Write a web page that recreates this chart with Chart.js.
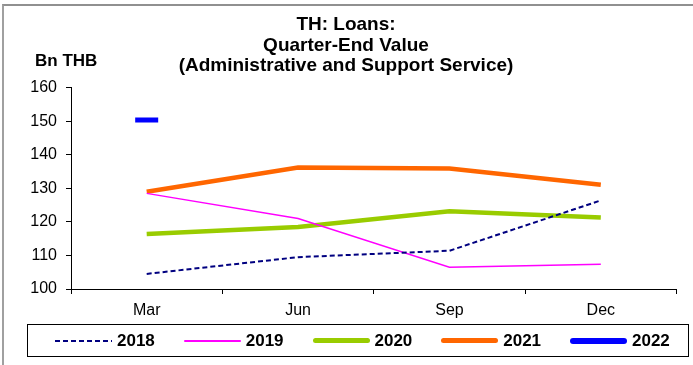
<!DOCTYPE html>
<html>
<head>
<meta charset="utf-8">
<script src="https://cdn.jsdelivr.net/npm/chart.js@4"></script>
<style>
  body { margin: 0; background: #fff; }
  #wrap { position: relative; width: 693px; height: 365px; overflow: hidden; font-family: "Liberation Sans", Arial, sans-serif; }
  #frame { position: absolute; left: 2px; top: 4px; width: 720px; height: 400px; border-left: 2px solid #a0a0a0; border-top: 2px solid #909090; }
  #unit { position: absolute; left: 35px; top: 51px; font-size: 17px; font-weight: bold; line-height: 20px; }
  #legend { position: absolute; left: 27px; top: 324px; width: 662px; height: 33px; box-sizing: border-box; border: 1px solid #000; display: flex; align-items: center; padding-left: 27px; }
  .item { display: flex; align-items: center; width: 128.75px; flex: none; }
  .sample { width: 57px; margin-right: 5px; flex: none; }
  .item span { font-size: 17px; font-weight: bold; }
</style>
</head>
<body>
<div id="wrap">
  <canvas id="loansChart" width="693" height="365"></canvas>
  <div id="frame"></div>
  <div id="unit">Bn THB</div>
  <div id="legend"></div>
</div>
<script>
// Quarter-end loans, Bn THB
const quarters = ['Mar', 'Jun', 'Sep', 'Dec'];
const years = ['2018', '2019', '2020', '2021', '2022'];
const loans2018 = [104.5, 109.5, 111.4, 126.4];
const loans2019 = [128.5, 121.0, 106.5, 107.4];
const loans2020 = [116.4, 118.5, 123.2, 121.3];
const loans2021 = [129.0, 136.2, 135.9, 131.1];
const loans2022 = [150.4, null, null, null];
const yTicks = [100, 110, 120, 130, 140, 150, 160];

const colors = ['#000080', '#FF00FF', '#99CC00', '#FF6600', '#0000FF'];
const widths = [2, 1.5, 4.5, 4.5, 5];

const datasets = [loans2018, loans2019, loans2020, loans2021, loans2022].map((data, i) => ({
  label: years[i],
  data,
  borderColor: colors[i],
  backgroundColor: colors[i],
  borderWidth: widths[i],
  borderDash: i === 0 ? [5, 3] : [],
  pointRadius: i === 4 ? 11.5 : 0,
  pointStyle: 'line',
  pointBorderWidth: i === 4 ? 5 : 0,
  pointBorderColor: colors[i],
  tension: 0
}));

new Chart(document.getElementById('loansChart'), {
  type: 'line',
  data: { labels: quarters, datasets },
  options: {
    responsive: false,
    animation: false,
    layout: { padding: { left: 4, right: 5, top: 0, bottom: 44 } },
    plugins: {
      legend: { display: false },
      tooltip: { enabled: false },
      title: {
        display: true,
        text: ['TH: Loans:', 'Quarter-End Value', '(Administrative and Support Service)'],
        color: '#000',
        font: { family: '"Liberation Sans", Arial, sans-serif', size: 19, weight: 'bold', lineHeight: 1.1 },
        padding: { top: 14, bottom: 11 }
      }
    },
    scales: {
      x: {
        offset: true,
        grid: { offset: true, drawOnChartArea: false, drawTicks: true, tickLength: 5, color: '#000' },
        border: { color: '#000', width: 1 },
        ticks: { color: '#000', padding: 7, font: { family: '"Liberation Sans", Arial, sans-serif', size: 16 } },
        afterFit: scale => { scale.height = 32; }
      },
      y: {
        min: 100,
        max: 160,
        afterBuildTicks: scale => { scale.ticks = yTicks.map(v => ({ value: v })); },
        grid: { drawOnChartArea: false, drawTicks: true, tickLength: 5, color: '#000' },
        border: { color: '#000', width: 1 },
        ticks: { color: '#000', padding: 9, font: { family: '"Liberation Sans", Arial, sans-serif', size: 16 } },
        afterFit: scale => { scale.width = 67; }
      }
    }
  }
});

// HTML legend built from the dataset styles
const legendEl = document.getElementById('legend');
datasets.forEach((ds, i) => {
  const item = document.createElement('div');
  item.className = 'item';
  const sample = document.createElement('div');
  sample.className = 'sample';
  if (i === 0) {
    sample.style.height = '2px';
    sample.style.background = `repeating-linear-gradient(to right, ${ds.borderColor} 0 5px, transparent 5px 8px)`;
  } else {
    const h = i === 1 ? 2 : (i === 4 ? 6 : 5);
    sample.style.height = h + 'px';
    sample.style.background = ds.borderColor;
    sample.style.borderRadius = (h / 2) + 'px';
  }
  const text = document.createElement('span');
  text.textContent = ds.label;
  item.appendChild(sample);
  item.appendChild(text);
  legendEl.appendChild(item);
});
</script>
</body>
</html>
